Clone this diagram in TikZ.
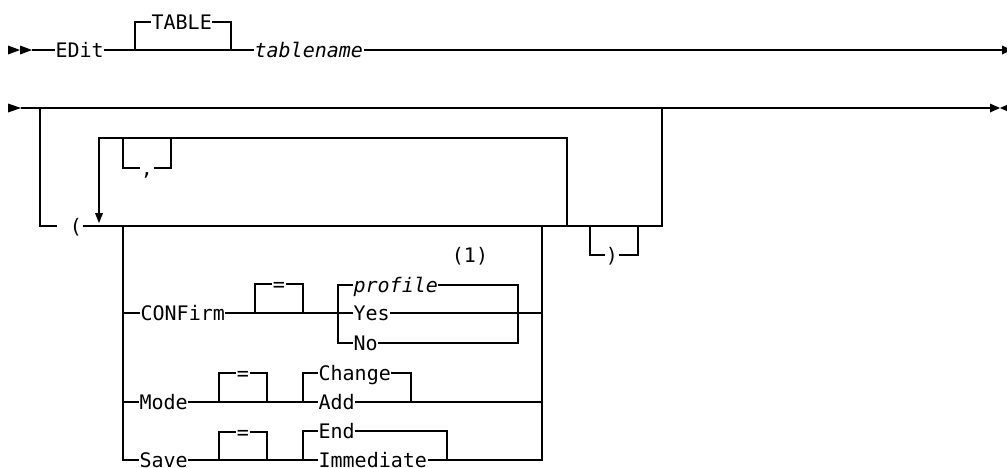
\documentclass[tikz,border=0pt]{standalone}
\usepackage{fontspec}
\newfontfamily\rrfont{DejaVu Sans Mono}
\begin{document}
\begin{tikzpicture}[x=1pt,y=-1pt,line width=1.2pt,
  kw/.style={inner sep=0pt,text height=15pt,text depth=0pt,anchor=west,font=\rrfont\fontsize{20}{24}\selectfont},
  var/.style={kw,font=\rrfont\itshape\fontsize{20}{24}\selectfont},
  sym/.style={kw,anchor=center}]
\useasboundingbox (0,0) rectangle (1007,467);
\clip (0,0) rectangle (1007,467);
% ---------- row 1 ----------
\fill (8,45.5) -- (20,50) -- (8,54.5) -- cycle;
\fill (20,45.5) -- (32,50) -- (20,54.5) -- cycle;
\coordinate (s1) at (32,50);
\coordinate (e1) at (1002,50);
\node[kw] (edit) at (55,50) {EDit};
\node[kw] (table) at (151,22) {TABLE};
\node[var] (tname) at (254,50) {tablename};
\draw (s1) -- (edit.west);
\draw (edit.east) -- (tname.west);
\draw (135,50) |- (table.west);
\draw (table.east) -| (231,50);
\draw (tname.east) -- (e1);
\fill (1002,45.5) -- (1012,50) -- (1002,54.5) -- cycle;
% ---------- row 2 ----------
\fill (8,103.5) -- (21,108) -- (8,112.5) -- cycle;
\coordinate (s2) at (21,108);
\coordinate (e2) at (990,108);
\draw (s2) -- (e2);
\fill (990,103.5) -- (1000,108) -- (990,112.5) -- cycle;
\fill (1010,103.5) -- (1000,108) -- (1010,112.5) -- cycle;
% optional group
\coordinate (lgap) at (57,226);
\node[sym] (lpar) at (76,226) {(};
\draw (40,108) |- (lgap);
\draw (lpar.east) -- (662,226) -- (662,108);
% repeat loop
\draw (567,226) -- (567,138) -- (99,138) -- (99,214);
\fill (95,213) -- (103,213) -- (99,223) -- cycle;
\node[sym] (comma) at (147,168) {,};
\draw (123,138) |- (comma.west);
\draw (comma.east) -| (171,138);
% closing paren
\node[sym] (rpar) at (612,255) {)};
\draw (590,226) |- (rpar.west);
\draw (rpar.east) -| (638,226);
% ---------- choice ----------
\node[kw] (confirm) at (140,313) {CONFirm};
\node[kw] (mode) at (139,402) {Mode};
\node[kw] (save) at (139,460) {Save};
\draw (123,226) |- (save.west);
\draw (123,313) -- (confirm.west);
\draw (123,402) -- (mode.west);
% CONFirm
\node[sym] (eq1) at (279,284) {=};
\node[var] (profile) at (353,285) {profile};
\node[kw] (yes) at (353,313) {Yes};
\node[kw] (no) at (353,343) {No};
\node[sym] (note) at (470,255) {(1)};
\draw (confirm.east) -- (yes.west);
\draw (255,313) |- (eq1.west);
\draw (eq1.east) -| (303,313);
\draw (profile.west) -| (338,343) -- (no.west);
\draw (profile.east) -| (518,343) -- (no.east);
\draw (yes.east) -- (542,313);
% Mode
\node[sym] (eq2) at (243,373) {=};
\node[kw] (change) at (318,373) {Change};
\node[kw] (add) at (318,402) {Add};
\draw (mode.east) -- (add.west);
\draw (219,402) |- (eq2.west);
\draw (eq2.east) -| (267,402);
\draw (change.west) -| (303,402);
\draw (change.east) -| (411,402);
\draw (add.east) -- (542,402);
% Save
\node[sym] (eq3) at (243,432) {=};
\node[kw] (end) at (318,431) {End};
\node[kw] (imm) at (318,460) {Immediate};
\draw (save.east) -- (imm.west);
\draw (219,460) |- (eq3.west);
\draw (eq3.east) -| (267,460);
\draw (end.west) -| (303,460);
\draw (end.east) -| (447,460);
\draw (542,226) |- (imm.east);
\end{tikzpicture}
\end{document}
